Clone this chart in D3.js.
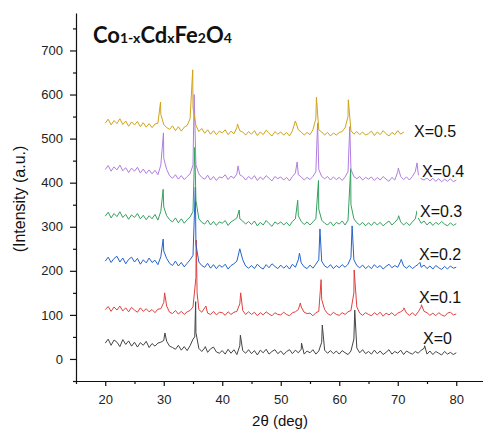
<!DOCTYPE html>
<html>
<head>
<meta charset="utf-8">
<script src="https://cdn.jsdelivr.net/npm/d3@7"></script>
<style>
  html, body { margin: 0; padding: 0; background: #fff; }
  svg { display: block; }
</style>
</head>
<body>
<svg id="chart" width="483" height="431"></svg>
<script>
// ---------- DATA ----------
const seriesNames = ["X=0", "X=0.1", "X=0.2", "X=0.3", "X=0.4", "X=0.5"];
const xTicks = [20, 30, 40, 50, 60, 70, 80];
const yTicks = [0, 100, 200, 300, 400, 500, 600, 700];
// sampling positions of the background (2θ, deg)
const twoTheta = d3.range(0, 121).map(i => 20 + i * 0.5);

const baseX0 = [
  36,45,31,43,38,28,44,33,41,29,
  38,27,37,31,40,26,35,29,36,38,
  42,40,29,26,22,31,20,28,19,30,
  45,60,24,17,25,15,23,27,16,13,
  19,11,22,13,21,10,30,19,13,21,
  12,19,9,20,14,22,11,17,21,12,
  18,10,17,21,12,20,14,22,11,18,
  14,21,11,18,38,20,13,19,12,18,
  11,19,14,10,18,45,25,14,21,12,
  17,11,20,12,18,10,15,21,11,17,
  13,20,10,18,14,11,17,13,20,24,
  11,18,10,17,13,9,17,11,15,10,
  14];
const peaksX0 = [[30.2,59],[35.3,50],[35.45,130],[37.1,28],[43.1,54],[53.55,36],[57.1,77],[62.65,111],[74.6,30]];

const baseX01 = [
  112,119,108,118,111,120,109,116,107,117,
  111,106,116,108,114,107,112,105,113,114,
  128,120,106,103,110,102,108,101,107,110,
  118,185,112,106,116,104,101,108,100,106,
  105,99,107,101,106,108,125,110,101,107,
  101,106,98,105,100,107,102,98,105,101,
  100,106,101,98,105,107,112,118,106,103,
  104,98,105,108,135,112,103,99,106,101,
  99,105,101,107,110,150,118,104,99,105,
  101,98,105,100,106,97,104,100,105,98,
  104,107,112,104,99,105,98,107,118,108,
  105,99,104,98,105,100,97,104,106,100,
  102];
const peaksX01 = [[30.15,150],[35.55,270],[35.7,150],[37.2,120],[43.15,150],[53.35,127],[56.9,180],[62.55,202],[71.05,116],[74.05,123]];

const baseX02 = [
  222,231,219,228,233,220,229,216,226,231,
  220,228,215,225,218,229,219,224,214,232,
  245,228,217,212,222,211,219,209,217,225,
  235,260,220,212,208,217,206,214,205,213,
  208,215,204,212,216,222,250,225,211,206,
  212,205,215,208,204,214,207,216,210,205,
  213,206,212,204,215,208,225,218,209,205,
  213,206,215,225,222,211,207,214,205,212,
  207,214,208,215,230,225,212,207,213,205,
  211,205,214,207,212,204,210,215,207,212,
  208,222,211,206,212,205,210,215,208,213,
  205,211,204,212,207,203,210,204,211,206,
  208];
const peaksX02 = [[29.9,272],[35.4,390],[53.2,240],[56.7,295],[62.2,302],[70.6,226],[73.8,219]];

const baseX03 = [
  324,333,320,330,323,334,321,328,317,327,
  321,330,318,326,316,325,318,328,315,335,
  345,325,316,311,320,309,318,308,316,322,
  335,360,318,310,306,315,304,312,303,311,
  308,314,303,311,315,320,318,313,306,312,
  305,313,302,310,304,314,307,301,311,306,
  311,304,310,302,312,318,325,312,305,311,
  304,311,318,340,315,308,304,311,302,310,
  306,313,304,315,350,318,309,304,310,302,
  309,303,311,304,310,302,308,313,304,310,
  318,311,304,310,303,311,318,320,308,313,
  304,311,303,310,305,312,306,302,309,303,
  307];
const peaksX03 = [[29.9,385],[35.3,480],[42.9,338],[52.9,360],[56.45,405],[61.95,432],[70.15,325],[73.3,336]];

const baseX04 = [
  430,439,426,436,429,440,427,434,423,433,
  426,435,422,431,421,429,420,428,418,440,
  455,430,416,410,418,408,416,407,414,420,
  440,440,420,412,408,417,406,414,405,413,
  411,418,407,415,410,420,418,414,406,414,
  408,416,405,413,407,416,410,404,414,409,
  413,406,412,404,414,422,418,413,406,412,
  407,414,425,430,414,409,414,406,413,407,
  412,405,413,425,430,414,409,414,406,412,
  408,413,405,412,406,414,408,403,412,406,
  425,414,407,413,406,414,425,420,409,406,
  411,404,410,403,409,402,408,403,409,402,
  406];
const peaksX04 = [[29.95,513],[35.2,600],[42.7,438],[52.8,447],[56.3,535],[61.8,527],[70.1,433],[73.3,445]];

const baseX05 = [
  535,544,531,541,534,545,532,540,528,538,
  531,539,527,536,526,534,525,533,535,555,
  532,525,521,529,518,527,517,526,530,545,
  570,530,516,523,512,520,510,518,509,517,
  513,520,509,517,511,525,518,515,508,516,
  510,518,507,515,509,519,512,506,516,510,
  515,508,514,506,518,540,520,515,508,514,
  509,520,545,520,515,508,514,506,513,508,
  514,516,525,550,518,510,516,509,515,508,
  511,517,507,515,509,518,511,506,514,509,
  518,510,515,508,514,506,513,505,512,505,
  511,505,512,506,511,504,510,505,511,504,
  508];
const peaksX05 = [[29.45,583],[34.95,656],[42.6,533],[56.1,594],[61.55,588]];

const seriesBase = [baseX0, baseX01, baseX02, baseX03, baseX04, baseX05];
const seriesPeaks = [peaksX0, peaksX01, peaksX02, peaksX03, peaksX04, peaksX05];
const colors = ["#444444", "#e0403f", "#2463cc", "#35a060", "#b07ee0", "#cfa31c"];

// ---------- LAYOUT ----------
const svg = d3.select("#chart");
const x = d3.scaleLinear().domain([15, 85]).range([76, 485.5]);
const y = d3.scaleLinear().domain([-50, 785]).range([381, 13]);

const tickFont = "'Liberation Sans', Arial, sans-serif";

// series lines
const line = d3.line().x(d => x(d[0])).y(d => y(d[1]));
seriesBase.forEach((base, si) => {
  const pts = twoTheta.map((t, i) => [t, base[i]])
    .concat(seriesPeaks[si])
    .sort((a, b) => a[0] - b[0]);
  svg.append("path")
    .datum(pts)
    .attr("d", line)
    .attr("fill", "none")
    .attr("stroke", colors[si])
    .attr("stroke-width", 1)
    .attr("stroke-linejoin", "round");
});

// series labels with white boxes
const labelPos = [[423, 344], [419, 303], [419, 260], [420, 217], [422, 177], [414, 137]];
seriesNames.forEach((name, i) => {
  const g = svg.append("g");
  const t = g.append("text")
    .attr("x", labelPos[i][0]).attr("y", labelPos[i][1])
    .attr("font-family", tickFont).attr("font-size", 16)
    .attr("fill", "#111")
    .text(name);
  const bb = t.node().getBBox();
  g.insert("rect", "text")
    .attr("x", bb.x - (i === 5 ? 10 : 3)).attr("y", bb.y + 2)
    .attr("width", bb.width + (i === 5 ? 13 : 6)).attr("height", bb.height - 4)
    .attr("fill", "#fff");
});

// axes
svg.append("g").attr("transform", "translate(0,381)")
  .call(d3.axisBottom(x).tickValues(xTicks).tickSize(5).tickSizeOuter(0).tickPadding(9));
svg.append("g").attr("transform", "translate(0,381)")
  .call(d3.axisBottom(x).tickValues([15,25,35,45,55,65,75,85]).tickSize(3).tickSizeOuter(0).tickFormat(""))
  .select(".domain").remove();
svg.append("g").attr("transform", "translate(76,0)")
  .call(d3.axisLeft(y).tickValues(yTicks).tickSize(6).tickSizeOuter(0).tickPadding(7));
svg.append("g").attr("transform", "translate(76,0)")
  .call(d3.axisLeft(y).tickValues([-50,50,150,250,350,450,550,650,750]).tickSize(3).tickSizeOuter(0).tickFormat(""))
  .select(".domain").remove();

svg.selectAll(".tick text").attr("font-family", tickFont).attr("font-size", 13).attr("fill", "#222");
svg.selectAll(".domain, .tick line").attr("stroke", "#111").attr("stroke-width", 1.2);

// axis titles
svg.append("text")
  .attr("x", 280).attr("y", 426)
  .attr("text-anchor", "middle")
  .attr("font-family", tickFont).attr("font-size", 15)
  .attr("fill", "#111")
  .text("2θ (deg)");
svg.append("text")
  .attr("transform", "translate(25,199) rotate(-90)")
  .attr("text-anchor", "middle")
  .attr("font-family", tickFont).attr("font-size", 16)
  .attr("fill", "#111")
  .text("(Intensity (a.u.)");

// title
const title = svg.append("text")
  .attr("x", 93).attr("y", 43)
  .attr("font-family", "Lato, 'Open Sans', sans-serif")
  .attr("font-weight", "bold")
  .attr("fill", "#111");
const parts = [["Co", 22], ["1-x", 14], ["Cd", 22], ["x", 14], ["Fe", 22], ["2", 14], ["O", 22], ["4", 14]];
parts.forEach(p => title.append("tspan").attr("font-size", p[1]).text(p[0]));
</script>
</body>
</html>
